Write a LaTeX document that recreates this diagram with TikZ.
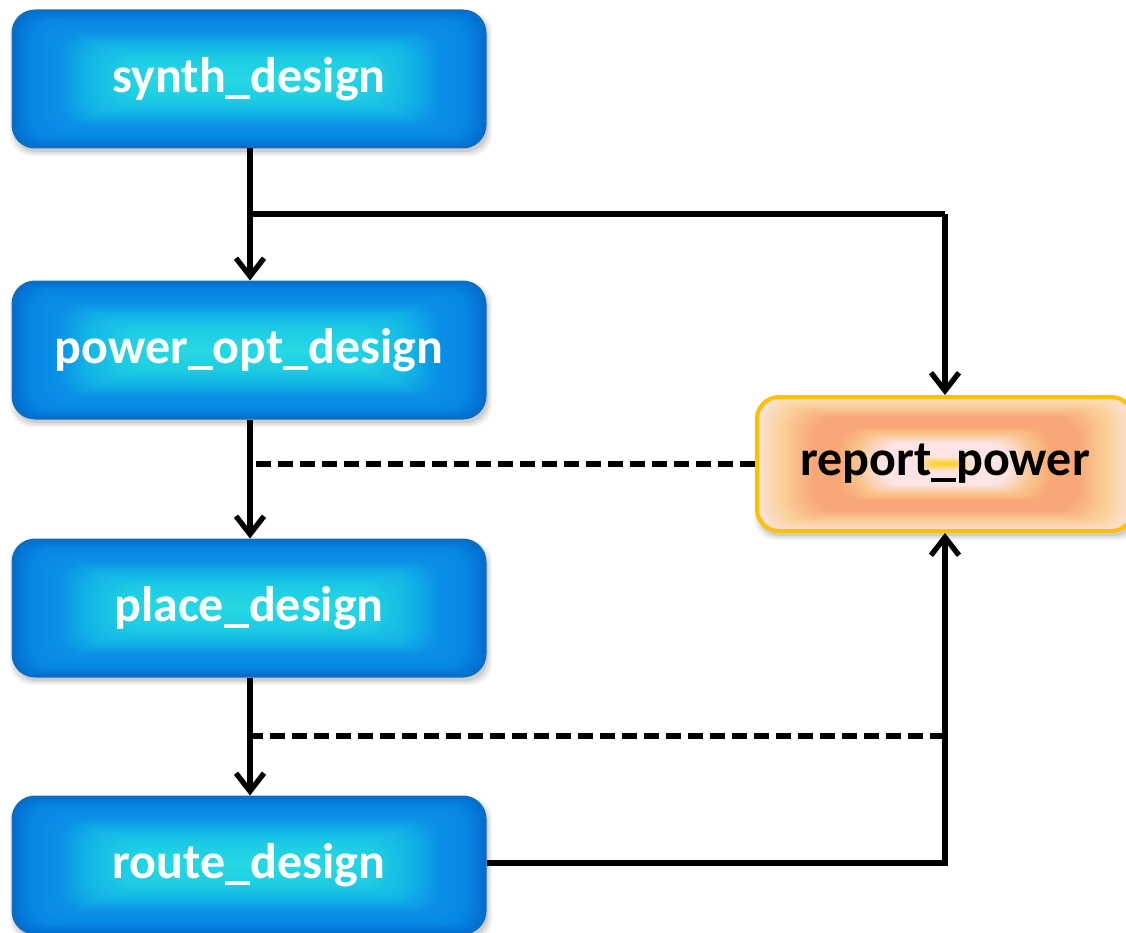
\documentclass[tikz,border=0pt]{standalone}
\usepackage{fontspec}
\setmainfont{Carlito}
\usetikzlibrary{arrows.meta,backgrounds}
\definecolor{bedge}{HTML}{0A6EC4}
\definecolor{bA}{HTML}{0070D2}
\definecolor{bB}{HTML}{0886E6}
\definecolor{bC}{HTML}{0A90E6}
\definecolor{bD}{HTML}{12B4E6}
\definecolor{bE}{HTML}{1ECCE4}
\definecolor{bF}{HTML}{26DAE4}
\definecolor{oborder}{HTML}{FFC000}
\definecolor{oA}{HTML}{FCE2DA}
\definecolor{oB}{HTML}{FAD39C}
\definecolor{oC}{HTML}{F8A878}
\definecolor{oD}{HTML}{F9C48A}
\definecolor{oE}{HTML}{FDE4E4}
\definecolor{oF}{HTML}{FDE4E4}
\definecolor{oG}{HTML}{FFCF1A}
% one gradient segment: #1 cx, #2 cy, #3 half w, #4 half h, #5 x-shrink, #6 t0, #7 t1, #8 colour A, #9 colour B
\newcommand\gradseg[9]{%
  \foreach \s in {0,...,9}{%
    \pgfmathsetmacro\tval{#6+(#7-#6)*\s/10}%
    \pgfmathtruncatemacro\pc{100-10*\s}%
    \pgfmathsetmacro\hw{#3-\tval*#5}%
    \pgfmathsetmacro\hh{max(0.5,(1-\tval)*#4)}%
    \pgfmathsetmacro\rr{max(0.5,min(22,\hh))}%
    \fill[#8!\pc!#9, rounded corners=\rr pt] (#1-\hw,#2-\hh) rectangle (#1+\hw,#2+\hh);
  }%
}
\newcommand\softshadow[4]{% cx cy hw hh
  \foreach \k/\o in {6/0.05,4/0.07,2/0.09}{%
    \fill[black, opacity=\o, rounded corners=22pt] (#1-#3-\k+3,#2-#4+6-\k) rectangle (#1+#3+\k+1,#2+#4+\k+3);
  }%
}
\newcommand\bluegrad[2]{% cx cy
  \softshadow{#1}{#2}{236}{68}
  \gradseg{#1}{#2}{236}{68}{150}{0}{0.12}{bA}{bB}
  \gradseg{#1}{#2}{236}{68}{150}{0.12}{0.3}{bB}{bC}
  \gradseg{#1}{#2}{236}{68}{150}{0.3}{0.48}{bC}{bD}
  \gradseg{#1}{#2}{236}{68}{150}{0.48}{0.7}{bD}{bE}
  \gradseg{#1}{#2}{236}{68}{150}{0.7}{1}{bE}{bF}
}
\newcommand\orangegrad[2]{% cx cy
  \softshadow{#1}{#2}{188}{67}
  \gradseg{#1}{#2}{188}{67}{180}{0}{0.12}{oA}{oB}
  \gradseg{#1}{#2}{188}{67}{180}{0.12}{0.3}{oB}{oC}
  \gradseg{#1}{#2}{188}{67}{180}{0.3}{0.45}{oC}{oC}
  \gradseg{#1}{#2}{188}{67}{180}{0.45}{0.55}{oC}{oD}
  \gradseg{#1}{#2}{188}{67}{180}{0.55}{0.68}{oD}{oE}
  \gradseg{#1}{#2}{188}{67}{180}{0.68}{0.88}{oE}{oF}
  \gradseg{#1}{#2}{188}{67}{180}{0.88}{1}{oF}{oG}
}
\tikzset{
  flowbox/.style={draw=bedge, line width=3pt, rounded corners=22pt,
    minimum width=472pt, minimum height=136pt, text=white,
    font=\fontsize{50}{58}\selectfont\bfseries},
  reportbox/.style={draw=oborder, line width=4pt, rounded corners=22pt,
    minimum width=376pt, minimum height=134pt, text=black,
    font=\fontsize{50}{58}\selectfont\bfseries},
  conn/.style={line width=5.3pt, draw=black},
  arr/.style={conn, -{Straight Barb[length=18pt, width=28pt, line width=5.3pt]}},
  dashconn/.style={line width=5.3pt, draw=black, dash pattern=on 15pt off 7pt}
}
\begin{document}
\begin{tikzpicture}[x=1pt,y=-1pt]
\useasboundingbox (0,0) rectangle (1126,933);
\node[flowbox] (synth) at (249,79) {synth\_design};
\node[flowbox] (popt) at (249,350) {power\_opt\_design};
\node[flowbox] (place) at (249,608) {place\_design};
\node[flowbox] (route) at (249,865) {route\_design};
\node[reportbox] (report) at (945,464) {report\_power};
\begin{scope}[on background layer]
  \bluegrad{249}{79}
  \bluegrad{249}{350}
  \bluegrad{249}{608}
  \bluegrad{249}{865}
  \orangegrad{945}{464}
\end{scope}
\coordinate (j1) at (250,214);
\coordinate (j1r) at (945,214);
\coordinate (d1) at (250,464);
\coordinate (d2) at (250,736);
\coordinate (d2r) at (945,736);
\coordinate (r1) at (945,863);
\draw[arr] (synth.south -| j1) -- (popt.north -| j1);
\draw[arr] (popt.south -| j1) -- (place.north -| j1);
\draw[arr] (place.south -| j1) -- (route.north -| j1);
\draw[conn] (j1) -- (j1r);
\draw[arr] (j1r) -- (report.north);
\draw[dashconn] (report.west) -- (d1);
\draw[dashconn] (d2r) -- (d2);
\draw[arr] (route.east |- r1) -- (r1) -- (report.south);
\end{tikzpicture}
\end{document}
